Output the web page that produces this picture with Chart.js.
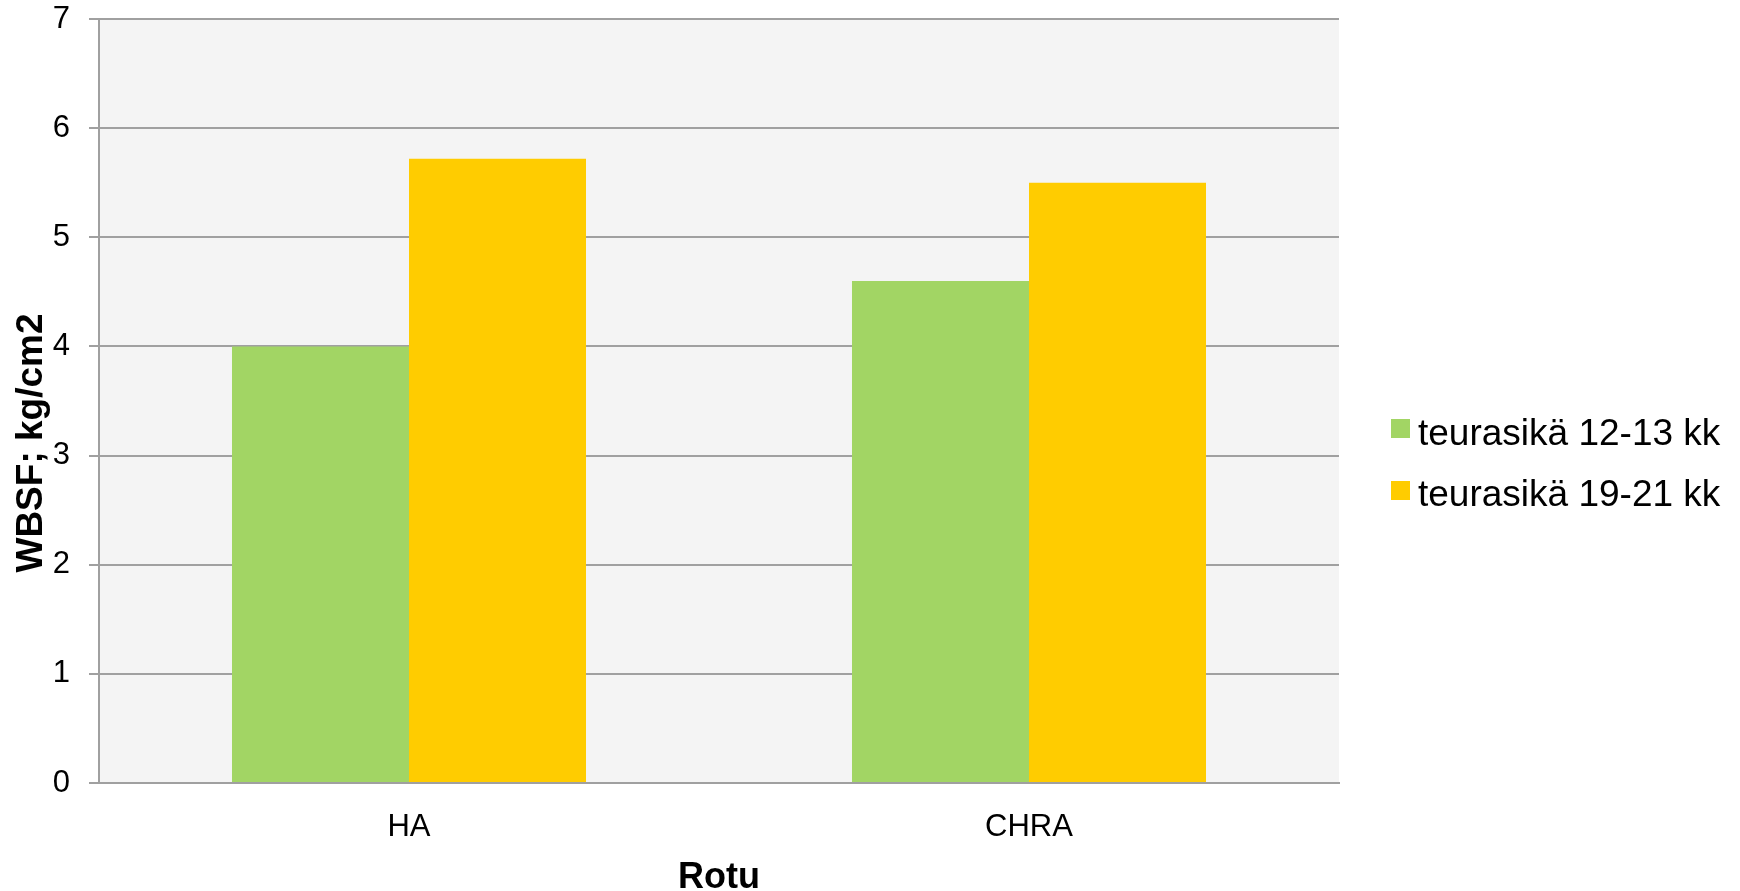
<!DOCTYPE html>
<html>
<head>
<meta charset="utf-8">
<script src="https://cdn.jsdelivr.net/npm/chart.js@4/dist/chart.umd.min.js"></script>
<style>
  body { margin: 0; background: #fff; }
  #wrap { position: relative; width: 1740px; height: 891px; }
  #legend { position: absolute; left: 1391px; top: 398px; font-family: 'Liberation Sans', Arial, sans-serif; font-size: 37px; color: #000; }
  .item { display: flex; align-items: center; height: 61.5px; }
  .box { width: 19px; height: 19px; margin-right: 8px; }
  .item span { position: relative; top: 4px; white-space: nowrap; }
</style>
</head>
<body>
<div id="wrap">
  <canvas id="chart" width="1740" height="891"></canvas>
  <div id="legend"></div>
</div>
<script>
// --- DATA ---
const categories = ['HA', 'CHRA'];
const seriesNames = ['teurasikä 12-13 kk', 'teurasikä 19-21 kk'];
const age12to13 = [4.0, 4.6];
const age19to21 = [5.72, 5.5];
const seriesColors = ['#A2D564', '#FFCC00'];
const yMin = 0, yMax = 7, yStep = 1;
const yTitle = 'WBSF; kg/cm2';
const xTitle = 'Rotu';

const FONT = "'Liberation Sans', Arial, sans-serif";
const GRID = '#A0A0A0';

// plot background fill
const plotBg = {
    id: 'plotBg',
    beforeDraw(chart) {
        const { ctx, chartArea: a } = chart;
        ctx.save();
        ctx.fillStyle = '#F4F4F4';
        ctx.fillRect(a.left, a.top, a.right - a.left, a.bottom - a.top);
        ctx.restore();
    }
};

// y axis title, sits a bit below the middle of the plot like the original
const yTitlePlugin = {
    id: 'yTitle',
    afterDraw(chart) {
        const { ctx } = chart;
        ctx.save();
        ctx.translate(41.5, 443);
        ctx.rotate(-Math.PI / 2);
        ctx.font = "bold 37px " + FONT;
        ctx.fillStyle = '#000';
        ctx.textAlign = 'center';
        ctx.textBaseline = 'alphabetic';
        ctx.fillText(yTitle, 0, 0);
        ctx.restore();
    }
};

const ctx = document.getElementById('chart').getContext('2d');
const chart = new Chart(ctx, {
    type: 'bar',
    data: {
        labels: categories,
        datasets: [
            { label: seriesNames[0], data: age12to13, backgroundColor: seriesColors[0] },
            { label: seriesNames[1], data: age19to21, backgroundColor: seriesColors[1] }
        ]
    },
    options: {
        responsive: false,
        animation: false,
        devicePixelRatio: 1,
        categoryPercentage: 0.571,
        barPercentage: 1.0,
        layout: { padding: { top: 19, right: 401, bottom: 0, left: 0 } },
        plugins: {
            legend: { display: false },
            tooltip: { enabled: false }
        },
        scales: {
            x: {
                grid: { display: false, drawTicks: false },
                border: { display: true, color: GRID, width: 2 },
                ticks: { color: '#000', font: { family: FONT, size: 31 }, padding: 26 },
                title: {
                    display: true, text: xTitle, color: '#000',
                    font: { family: FONT, size: 36, weight: 'bold', lineHeight: 0.7 },
                    padding: { top: 0, bottom: 0 }
                },
                afterFit(scale) {
                    scale.height = 108;
                    scale.paddingLeft = 0;
                    scale.paddingRight = 0;
                }
            },
            y: {
                min: yMin, max: yMax,
                grid: { color: GRID, lineWidth: 2, tickLength: 10, drawTicks: true },
                border: { display: true, color: GRID, width: 2 },
                ticks: { stepSize: yStep, color: '#000', font: { family: FONT, size: 31 }, padding: 19 },
                title: { display: false },
                afterFit(scale) {
                    scale.width = 99;
                    scale.paddingTop = 0;
                    scale.paddingBottom = 0;
                }
            }
        }
    },
    plugins: [plotBg, yTitlePlugin]
});

// legend
document.getElementById('legend').innerHTML = chart.data.datasets.map(ds =>
    `<div class="item"><div class="box" style="background:${ds.backgroundColor}"></div><span>${ds.label}</span></div>`
).join('');
</script>
</body>
</html>
